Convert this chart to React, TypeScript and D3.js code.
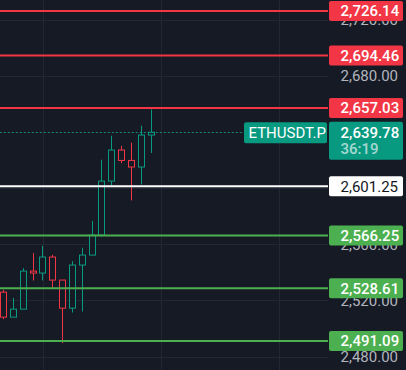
import React, { useEffect, useRef } from 'react';
import * as d3 from 'd3';

// candles, oldest first
const opens = [2525.9, 2508.1, 2513.8, 2540.9, 2539.5, 2550.9, 2534.5, 2514.5, 2545.2, 2552.3, 2566.5, 2605.0, 2627.1, 2619.7, 2615.0, 2637.8];
const highs = [2527.6, 2521.7, 2543.0, 2553.7, 2558.9, 2552.5, 2534.5, 2548.0, 2557.5, 2576.7, 2620.2, 2637.3, 2630.1, 2632.3, 2644.4, 2656.0];
const lows = [2506.7, 2508.1, 2513.8, 2534.2, 2534.2, 2528.1, 2489.6, 2511.4, 2512.1, 2552.3, 2565.5, 2601.9, 2617.8, 2591.2, 2602.6, 2625.0];
const closes = [2508.1, 2513.8, 2540.9, 2539.5, 2550.9, 2534.5, 2514.5, 2545.2, 2552.3, 2566.5, 2605.0, 2627.1, 2619.7, 2615.0, 2637.8, 2639.78];

const priceTicks = [2480, 2520, 2560, 2600, 2640, 2680, 2720];
const timeGridIdx = [4, 16, 28];

const resistance = [2726.14, 2694.46, 2657.03];
const pivot = [2601.25];
const support = [2566.25, 2528.61, 2491.09];

const symbol = 'ETHUSDT.P';
const lastPrice = 2639.78;
const countdown = '36:19';

const W = 406;
const H = 370;
const paneW = 328;
const BG = '#161a25';
const UP = '#089981';
const DOWN = '#f23645';
const GREEN = '#4caf50';
const FONT = 'Roboto, sans-serif';

export default function App() {
  const ref = useRef<SVGSVGElement>(null);

  useEffect(() => {
    const svg = d3.select(ref.current);
    svg.selectAll('*').remove();

    const x = d3.scaleLinear().domain([0, 15]).range([3.5, 151.2]);
    const y = d3.scaleLinear().domain([2480, 2720]).range([356.6, 19.6]);
    const fmt = d3.format(',.2f');

    svg.append('rect').attr('width', W).attr('height', H).attr('fill', BG);

    // grid
    const grid = svg.append('g').attr('stroke', '#232733').attr('stroke-width', 1);
    grid
      .selectAll('line.h')
      .data(priceTicks)
      .enter()
      .append('line')
      .attr('x1', 0)
      .attr('x2', paneW)
      .attr('y1', (d) => Math.round(y(d)) + 0.5)
      .attr('y2', (d) => Math.round(y(d)) + 0.5);
    grid
      .selectAll('line.v')
      .data(timeGridIdx)
      .enter()
      .append('line')
      .attr('x1', (d) => Math.round(x(d)) + 0.5)
      .attr('x2', (d) => Math.round(x(d)) + 0.5)
      .attr('y1', 0)
      .attr('y2', H);

    // price axis labels
    svg
      .append('g')
      .selectAll('text')
      .data(priceTicks)
      .enter()
      .append('text')
      .attr('x', 340.5)
      .attr('y', (d) => y(d) + 5.3)
      .attr('fill', '#b2b5be')
      .style('font-family', FONT)
      .style('font-size', '15px')
      .text((d) => fmt(d));

    // candles
    const candles = svg
      .append('g')
      .selectAll('g')
      .data(opens.map((o, i) => ({ o, h: highs[i], l: lows[i], c: closes[i], i })))
      .enter()
      .append('g')
      .attr('stroke', (d) => (d.c >= d.o ? UP : DOWN));
    candles
      .append('line')
      .attr('x1', (d) => Math.round(x(d.i) - 3.5) + 3.5)
      .attr('x2', (d) => Math.round(x(d.i) - 3.5) + 3.5)
      .attr('y1', (d) => y(d.h))
      .attr('y2', (d) => y(d.l));
    candles
      .append('rect')
      .attr('x', (d) => Math.round(x(d.i) - 3.5) + 0.5)
      .attr('width', 6)
      .attr('y', (d) => y(Math.max(d.o, d.c)))
      .attr('height', (d) => Math.max(1, Math.abs(y(d.o) - y(d.c))))
      .attr('fill', BG);

    // last price dotted line
    svg
      .append('line')
      .attr('x1', 0)
      .attr('x2', 244)
      .attr('y1', Math.round(y(lastPrice)) + 0.5)
      .attr('y2', Math.round(y(lastPrice)) + 0.5)
      .attr('stroke', UP)
      .attr('stroke-dasharray', '1.5,2.5');

    // level lines + labels
    const levels = [
      ...resistance.map((v) => ({ v, line: DOWN, box: DOWN, txt: '#ffffff' })),
      ...pivot.map((v) => ({ v, line: '#ffffff', box: '#ffffff', txt: '#131722' })),
      ...support.map((v) => ({ v, line: GREEN, box: GREEN, txt: '#ffffff' })),
    ];
    const lv = svg.append('g').selectAll('g').data(levels).enter().append('g');
    lv.append('line')
      .attr('x1', 0)
      .attr('x2', paneW)
      .attr('y1', (d) => y(d.v))
      .attr('y2', (d) => y(d.v))
      .attr('stroke', (d) => d.line)
      .attr('stroke-width', 2);
    lv.append('rect')
      .attr('x', 329)
      .attr('width', 74)
      .attr('y', (d) => y(d.v) - 10)
      .attr('height', 20)
      .attr('rx', 2)
      .attr('fill', (d) => d.box);
    lv.append('text')
      .attr('x', 340.5)
      .attr('y', (d) => y(d.v) + 5.3)
      .attr('fill', (d) => d.txt)
      .style('font-family', FONT)
      .style('font-size', '15px')
      .style('font-weight', (d) => (d.txt === '#ffffff' ? 500 : 400))
      .text((d) => fmt(d.v));

    // symbol + last price label
    const ly = y(lastPrice);
    svg
      .append('rect')
      .attr('x', 244)
      .attr('y', ly - 10)
      .attr('width', 83)
      .attr('height', 21)
      .attr('rx', 2)
      .attr('fill', UP);
    svg
      .append('text')
      .attr('x', 248.5)
      .attr('y', ly + 5.8)
      .attr('fill', '#ffffff')
      .style('font-family', FONT)
      .style('font-size', '15px')
      .text(symbol);
    svg
      .append('rect')
      .attr('x', 329)
      .attr('y', ly - 10.5)
      .attr('width', 74)
      .attr('height', 38)
      .attr('rx', 2)
      .attr('fill', UP);
    svg
      .append('text')
      .attr('x', 340.5)
      .attr('y', ly + 5.3)
      .attr('fill', '#ffffff')
      .style('font-family', FONT)
      .style('font-size', '15px')
      .style('font-weight', 500)
      .text(fmt(lastPrice));
    svg
      .append('text')
      .attr('x', 340.5)
      .attr('y', ly + 22)
      .attr('fill', '#ffffff')
      .attr('fill-opacity', 0.65)
      .style('font-family', FONT)
      .style('font-size', '15px')
      .style('font-weight', 500)
      .text(countdown);
  }, []);

  return (
    <svg
      ref={ref}
      width={W}
      height={H}
      style={{ position: 'absolute', left: 0, top: 0, display: 'block' }}
    />
  );
}
